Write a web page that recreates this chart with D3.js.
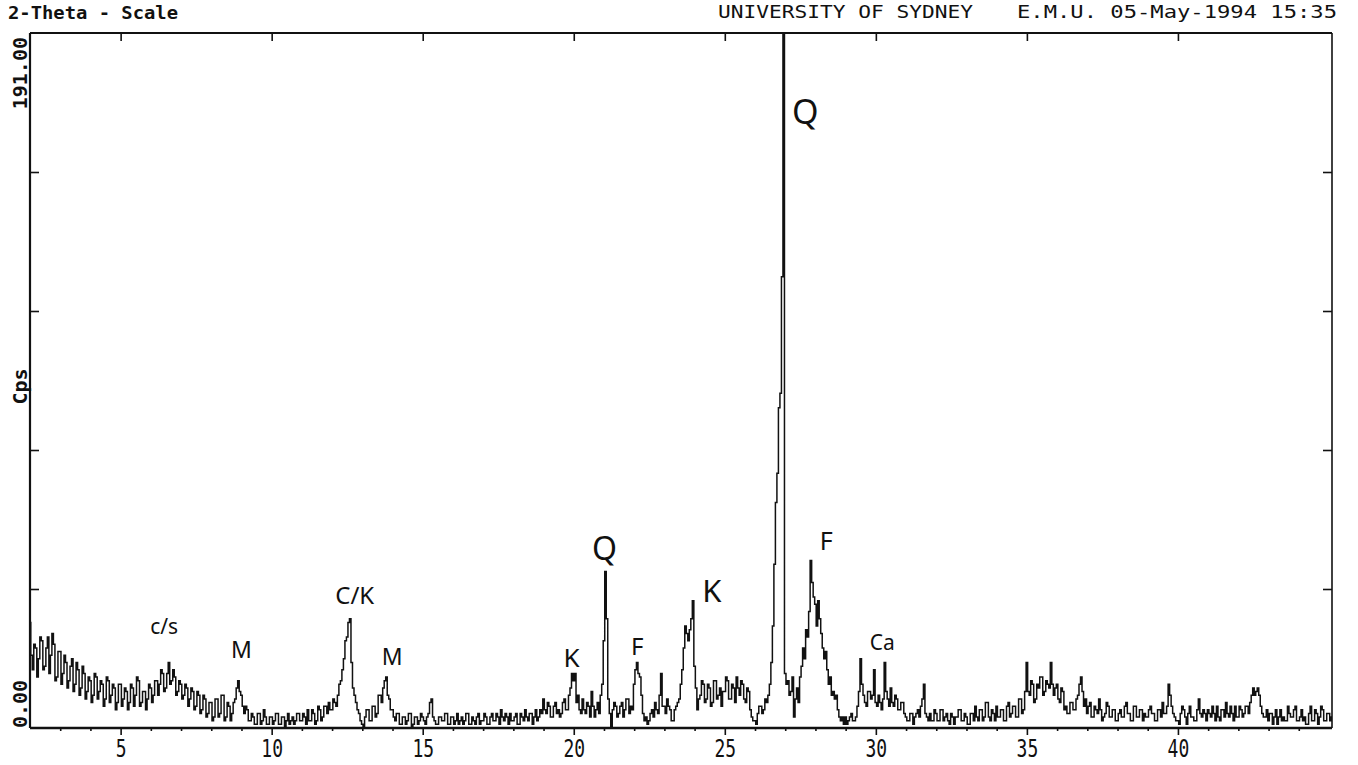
<!DOCTYPE html>
<html>
<head>
<meta charset="utf-8">
<script src="https://cdn.jsdelivr.net/npm/d3@7"></script>
<style>
  body { margin: 0; background: #fff; }
  svg { display: block; }
  .mono { font-family: "DejaVu Sans Mono", monospace; fill: #111; }
  .hand { font-family: "Noto Sans", sans-serif; fill: #111; }
</style>
</head>
<body>
<svg width="1358" height="765"></svg>
<script>
// Scan grid: 2-theta from 2.00 deg, one reading every 0.05 deg
var angleStart = 2.0, angleStep = 0.05;

// Counts per second, one row of 20 readings per degree (2 .. 14)
var cpsLow = [
  29, 20, 16, 23, 22, 14, 19, 25, 24, 16, 17, 22, 25, 15, 20, 26, 23, 13, 14, 21,
  21, 12, 15, 20, 18, 11, 13, 17, 19, 10, 12, 18, 16, 9, 11, 17, 15, 8, 10, 14,
  13, 7, 9, 15, 14, 8, 10, 13, 12, 6, 8, 14, 13, 7, 9, 12, 11, 5, 7, 12,
  12, 6, 8, 11, 10, 5, 7, 12, 11, 6, 9, 14, 13, 6, 7, 10, 10, 5, 8, 12,
  11, 7, 9, 13, 13, 9, 12, 16, 15, 10, 11, 15, 18, 12, 13, 16, 14, 9, 10, 13,
  12, 8, 9, 12, 11, 6, 8, 11, 10, 5, 6, 10, 9, 4, 5, 9, 8, 3, 4, 7,
  7, 2, 3, 8, 8, 3, 4, 9, 9, 2, 3, 7, 6, 2, 4, 7, 8, 11, 13, 10,
  9, 6, 4, 6, 5, 2, 2, 4, 3, 1, 1, 4, 4, 1, 2, 5, 3, 1, 1, 3,
  3, 1, 2, 4, 4, 1, 1, 3, 3, 0, 2, 4, 1, 2, 3, 1, 2, 4, 4, 2,
  2, 4, 3, 1, 5, 2, 2, 5, 4, 1, 2, 6, 5, 2, 3, 6, 6, 4, 7, 5,
  5, 8, 7, 6, 9, 12, 13, 16, 19, 24, 25, 29, 30, 18, 11, 9, 7, 5, 4, 2,
  1, 0, 3, 5, 5, 2, 2, 6, 6, 3, 4, 9, 9, 7, 11, 13, 14, 9, 8, 5
];
// 14 .. 27
var cpsMid = [
  5, 3, 2, 4, 4, 1, 1, 3, 3, 1, 2, 4, 4, 0, 1, 3, 3, 1, 2, 4,
  3, 2, 1, 3, 4, 7, 8, 3, 2, 1, 1, 3, 3, 2, 2, 4, 4, 1, 1, 3,
  3, 1, 2, 4, 1, 2, 3, 1, 2, 4, 4, 1, 1, 3, 2, 1, 3, 4, 1, 2,
  2, 4, 3, 1, 1, 3, 4, 2, 2, 4, 3, 1, 5, 3, 2, 4, 3, 1, 4, 2,
  2, 3, 4, 1, 1, 4, 3, 2, 5, 3, 2, 4, 4, 1, 3, 5, 2, 3, 5, 4,
  8, 5, 4, 7, 6, 3, 3, 6, 7, 4, 5, 3, 4, 7, 8, 5, 5, 9, 11, 15,
  13, 15, 7, 9, 5, 4, 8, 5, 4, 7, 6, 3, 10, 6, 3, 5, 7, 4, 9, 12,
  24, 43, 30, 8, 4, 0, 5, 7, 6, 3, 4, 6, 7, 3, 5, 8, 8, 4, 6, 5,
  12, 16, 18, 15, 14, 9, 4, 2, 3, 1, 2, 4, 5, 3, 7, 5, 4, 9, 15, 6,
  6, 4, 8, 6, 5, 2, 2, 5, 6, 7, 8, 12, 16, 22, 28, 26, 24, 27, 30, 35,
  17, 11, 5, 8, 9, 13, 12, 7, 8, 12, 11, 6, 7, 13, 13, 8, 9, 11, 6, 10,
  10, 14, 13, 8, 8, 12, 11, 7, 14, 11, 9, 13, 12, 8, 7, 11, 10, 5, 3, 2,
  2, 1, 4, 6, 6, 4, 5, 8, 7, 9, 12, 18, 28, 45, 62, 70, 88, 92, 124, 194
];
// 27 .. 45.1
var cpsHigh = [
  15, 12, 13, 9, 10, 14, 3, 8, 11, 7, 14, 17, 22, 19, 27, 25, 32, 46, 40, 36,
  34, 28, 35, 30, 26, 22, 19, 21, 16, 12, 14, 9, 10, 8, 9, 5, 3, 2, 3, 1,
  3, 1, 2, 3, 4, 2, 2, 3, 6, 10, 19, 12, 9, 7, 6, 10, 10, 8, 9, 16,
  7, 6, 9, 7, 5, 8, 18, 10, 8, 6, 11, 7, 6, 9, 8, 5, 5, 7, 7, 4,
  3, 2, 2, 4, 4, 1, 3, 4, 5, 3, 6, 8, 12, 4, 3, 2, 4, 2, 2, 5,
  4, 2, 2, 5, 5, 2, 3, 4, 2, 1, 4, 3, 1, 3, 3, 5, 5, 2, 2, 4,
  3, 1, 1, 4, 4, 2, 6, 3, 2, 5, 5, 2, 3, 7, 7, 3, 2, 5, 4, 2,
  6, 3, 3, 5, 5, 2, 2, 6, 7, 3, 4, 6, 6, 3, 3, 8, 8, 4, 5, 10,
  18, 10, 9, 13, 12, 7, 8, 12, 11, 14, 14, 9, 10, 13, 12, 11, 18, 12, 9, 11,
  12, 8, 7, 11, 10, 5, 6, 4, 4, 7, 7, 5, 5, 8, 9, 12, 14, 10, 6, 8,
  4, 6, 7, 3, 3, 6, 5, 4, 8, 5, 2, 3, 4, 7, 6, 3, 3, 5, 5, 2,
  2, 4, 5, 3, 3, 6, 7, 4, 4, 2, 2, 6, 6, 3, 3, 5, 5, 2, 4, 3,
  3, 5, 6, 4, 4, 2, 2, 5, 5, 3, 7, 4, 4, 6, 12, 9, 6, 4, 3, 2,
  2, 1, 4, 6, 5, 3, 1, 4, 6, 3, 3, 2, 2, 5, 8, 4, 3, 5, 4, 2,
  5, 4, 3, 6, 4, 2, 6, 3, 2, 5, 5, 3, 7, 4, 3, 6, 4, 2, 6, 3,
  3, 6, 5, 3, 4, 6, 6, 4, 7, 9, 11, 9, 10, 11, 9, 6, 4, 3, 3, 5,
  2, 4, 4, 1, 3, 5, 1, 3, 5, 2, 3, 2, 2, 6, 4, 3, 3, 5, 6, 2,
  2, 3, 5, 2, 3, 1, 1, 4, 6, 2, 2, 5, 4, 1, 3, 6, 5, 2, 2, 4,
  4, 2, 3
];

// Axis settings
var xTicksMajor = [5, 10, 15, 20, 25, 30, 35, 40];
var yTicks = [38.2, 76.4, 114.6, 152.8];
var xDomain = [2.0, 45.1];
var yDomain = [0, 191];

// Hand-written phase marks (label, 2-theta, cps at text baseline, size)
var peakLabels = [
  {t: "c/s", a: 6.44, c: 25.8, s: 21},
  {t: "M",   a: 9.0,  c: 19.2, s: 23},
  {t: "C/K", a: 12.75, c: 34,  s: 24},
  {t: "M",   a: 13.99, c: 17.3, s: 23},
  {t: "K",   a: 19.93, c: 16.8, s: 26},
  {t: "Q",   a: 21.02, c: 46.2, s: 32},
  {t: "F",   a: 22.1,  c: 20,   s: 24},
  {t: "K",   a: 24.57, c: 34.6, s: 31},
  {t: "Q",   a: 27.66, c: 166,  s: 34},
  {t: "F",   a: 28.36, c: 48.9, s: 25},
  {t: "Ca",  a: 30.21, c: 21.4, s: 21}
];

var cps = cpsLow.concat(cpsMid, cpsHigh);
var data = cps.map((c, i) => ({a: angleStart + i * angleStep, c: c}));

var margin = {top: 33, right: 26, bottom: 37, left: 30},
    width = 1358 - margin.left - margin.right,
    height = 765 - margin.top - margin.bottom;

var svg = d3.select("svg");
var g = svg.append("g")
    .attr("transform", `translate(${margin.left},${margin.top})`);

var x = d3.scaleLinear().domain(xDomain).range([0, width]);
var y = d3.scaleLinear().domain(yDomain).range([height, 0]);

// Clip the trace to the frame
svg.append("defs").append("clipPath").attr("id", "plot")
    .append("rect").attr("width", width).attr("height", height);

// Trace
var line = d3.line()
    .x(d => x(d.a))
    .y(d => y(Math.min(d.c, yDomain[1] + 3)))
    .curve(d3.curveStep);

g.append("path")
    .datum(data)
    .attr("clip-path", "url(#plot)")
    .attr("fill", "none")
    .attr("stroke", "#111")
    .attr("stroke-width", 1.5)
    .attr("d", line);

// Axes (ticks only, frame drawn after)
function clean(sel) {
    sel.select(".domain").remove();
    sel.selectAll("line").attr("stroke", "#111").attr("stroke-width", 1.6);
}

var bottom = g.append("g")
    .attr("transform", `translate(0,${height})`)
    .call(d3.axisBottom(x).tickValues(xTicksMajor).tickSize(7).tickFormat(d3.format("d")))
    .call(clean);
bottom.selectAll("text")
    .attr("class", "mono")
    .attr("y", null).attr("dy", null)
    .attr("transform", "translate(0,29) scale(1,1.4)")
    .style("font-size", "18px")
    .attr("fill", "#111");

g.append("g")
    .attr("transform", `translate(0,${height})`)
    .call(d3.axisBottom(x)
        .tickValues(d3.range(3, 46).filter(v => v % 5 !== 0))
        .tickSize(3).tickFormat(""))
    .call(clean);

g.append("g")
    .call(d3.axisTop(x).tickValues(xTicksMajor).tickSize(-8).tickFormat(""))
    .call(clean);

g.append("g")
    .call(d3.axisLeft(y).tickValues(yTicks).tickSize(-9).tickFormat(""))
    .call(clean);

g.append("g")
    .attr("transform", `translate(${width},0)`)
    .call(d3.axisRight(y).tickValues(yTicks).tickSize(-9).tickFormat(""))
    .call(clean);

// Frame
g.append("line").attr("x1", 0).attr("x2", width).attr("y1", 0).attr("y2", 0)
    .attr("stroke", "#111").attr("stroke-width", 2.2);
g.append("line").attr("x1", 0).attr("x2", width).attr("y1", height).attr("y2", height)
    .attr("stroke", "#111").attr("stroke-width", 2.6);
g.append("line").attr("x1", 0).attr("x2", 0).attr("y1", 0).attr("y2", height)
    .attr("stroke", "#111").attr("stroke-width", 2.2);
g.append("line").attr("x1", width).attr("x2", width).attr("y1", 0).attr("y2", height)
    .attr("stroke", "#111").attr("stroke-width", 1.6);

// Y labels, rotated
g.append("text").attr("class", "mono")
    .attr("transform", `translate(-3,${y(0)}) rotate(-90)`)
    .attr("text-anchor", "start")
    .style("font-size", "20px").style("font-weight", "bold")
    .text("0.00");
g.append("text").attr("class", "mono")
    .attr("transform", `translate(-3,${y(191) + 4}) rotate(-90)`)
    .attr("text-anchor", "end")
    .style("font-size", "20px").style("font-weight", "bold")
    .text("191.00");
g.append("text").attr("class", "mono")
    .attr("transform", `translate(-3,${y(95.5) + 6}) rotate(-90)`)
    .attr("text-anchor", "middle")
    .style("font-size", "20px").style("font-weight", "bold")
    .text("Cps");

// Header
svg.append("text").attr("class", "mono")
    .attr("x", 8).attr("y", 19)
    .attr("textLength", 170).attr("lengthAdjust", "spacingAndGlyphs")
    .style("font-size", "17px").style("font-weight", "bold")
    .text("2-Theta - Scale");
svg.append("text").attr("class", "mono")
    .attr("x", 718).attr("y", 18)
    .attr("textLength", 255).attr("lengthAdjust", "spacingAndGlyphs")
    .style("font-size", "18px")
    .text("UNIVERSITY OF SYDNEY");
svg.append("text").attr("class", "mono")
    .attr("x", 1017).attr("y", 18)
    .attr("textLength", 320).attr("lengthAdjust", "spacingAndGlyphs")
    .style("font-size", "18px")
    .text("E.M.U. 05-May-1994 15:35");

// Peak marks
g.selectAll("text.peak")
    .data(peakLabels)
    .enter()
    .append("text")
    .attr("class", "peak hand")
    .attr("x", d => x(d.a))
    .attr("y", d => y(d.c))
    .attr("text-anchor", "middle")
    .style("font-size", d => d.s + "px")
    .text(d => d.t);
</script>
</body>
</html>
